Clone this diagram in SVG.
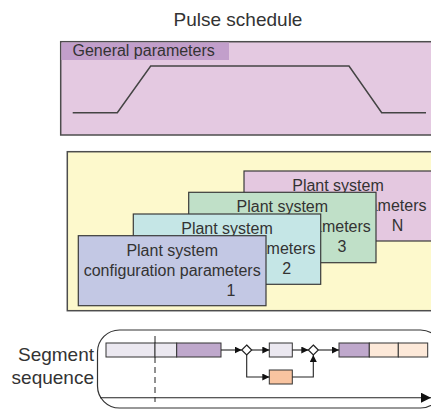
<svg xmlns="http://www.w3.org/2000/svg" width="431" height="410" viewBox="0 0 431 410">
  <defs>
    <style>
      text { font-family: "Liberation Sans", Arial, sans-serif; fill: #333; }
      .title { font-size: 19px; }
      .lbl { font-size: 16px; }
      .seqlbl { font-size: 19px; }
      .frame { stroke: #4d4d4d; stroke-width: 1.5; }
      .card { stroke: #3a3a3a; stroke-width: 1.2; }
      .bar { stroke: #333; stroke-width: 1; }
      .wire { fill: none; stroke: #222; stroke-width: 1.1; }
      .pulse { fill: none; stroke: #444; stroke-width: 1.5; }
    </style>
    <marker id="arr" viewBox="0 0 10 10" refX="10" refY="5" markerWidth="7" markerHeight="7" markerUnits="userSpaceOnUse" orient="auto">
      <path d="M0,0 L10,5 L0,10 z" fill="#111"/>
    </marker>
    <marker id="arrBig" viewBox="0 0 10 10" refX="10" refY="5" markerWidth="10" markerHeight="10" markerUnits="userSpaceOnUse" orient="auto">
      <path d="M0,0 L10,5 L0,10 z" fill="#111"/>
    </marker>
    <!-- visible tail of each card's second line, right of the card in front -->
    <clipPath id="clipN"><rect x="376.6" y="190" width="60" height="30"/></clipPath>
    <clipPath id="clip3"><rect x="321.3" y="212" width="60" height="30"/></clipPath>
    <clipPath id="clip2"><rect x="266.6" y="234" width="60" height="30"/></clipPath>
  </defs>

  <rect width="431" height="410" fill="#fff"/>

  <g id="title">
    <text class="title" x="238" y="26" text-anchor="middle">Pulse schedule</text>
  </g>

  <!-- General parameters block with pulse waveform -->
  <g id="general-parameters">
    <rect class="frame" x="60.7" y="41.7" width="380" height="93.3" fill="#e4c9e1"/>
    <rect x="61.5" y="42.5" width="167.5" height="17.5" fill="#c29fcb"/>
    <text class="lbl" x="72.5" y="55.5">General parameters</text>
    <polyline class="pulse" points="72.7,112.7 117.3,112.7 150.7,66 349,66 381.7,112.7 426,112.7"/>
  </g>

  <!-- Plant system configuration stack -->
  <g id="plant-systems">
    <rect class="frame" x="67.3" y="151.7" width="375" height="159" fill="#fdf9cc"/>
  </g>

  <g id="card-n">
    <rect class="card" x="244" y="171" width="195" height="70" fill="#e4c8e0"/>
    <text class="lbl" x="338" y="190.5" text-anchor="middle">Plant system</text>
    <text class="lbl" x="426.5" y="210.5" text-anchor="end" clip-path="url(#clipN)">rameters</text>
    <text class="lbl" x="397.5" y="230.5" text-anchor="middle">N</text>
  </g>

  <g id="card-3">
    <rect class="card" x="188.7" y="192.3" width="187.3" height="70.4" fill="#c0e0c8"/>
    <text class="lbl" x="282.3" y="211.8" text-anchor="middle">Plant system</text>
    <text class="lbl" x="370.8" y="231.8" text-anchor="end" clip-path="url(#clip3)">rameters</text>
    <text class="lbl" x="342" y="251.8" text-anchor="middle">3</text>
  </g>

  <g id="card-2">
    <rect class="card" x="133.3" y="214" width="187.4" height="70.3" fill="#c5e6e6"/>
    <text class="lbl" x="227" y="233.5" text-anchor="middle">Plant system</text>
    <text class="lbl" x="315.5" y="253.5" text-anchor="end" clip-path="url(#clip2)">rameters</text>
    <text class="lbl" x="286.7" y="273.5" text-anchor="middle">2</text>
  </g>

  <g id="card-1">
    <rect class="card" x="78.3" y="235.7" width="187.7" height="70" fill="#c3c8e4"/>
    <text class="lbl" x="172.2" y="255.5" text-anchor="middle">Plant system</text>
    <text class="lbl" x="172.2" y="275.5" text-anchor="middle">configuration parameters</text>
    <text class="lbl" x="231" y="295.5" text-anchor="middle">1</text>
  </g>

  <!-- Segment sequence timeline -->
  <g id="segment-sequence">
    <text class="seqlbl" x="94" y="361" text-anchor="end">Segment</text>
    <text class="seqlbl" x="94" y="384" text-anchor="end">sequence</text>
    <rect x="97.5" y="330" width="345" height="78" rx="22" ry="22" fill="none" stroke="#333" stroke-width="1.2"/>
  </g>

  <g id="seg-a"><rect class="bar" x="106" y="343" width="49" height="14" fill="#ebe8f0"/></g>
  <g id="seg-b"><rect class="bar" x="155" y="343" width="21.7" height="14" fill="#ebe8f0"/></g>
  <g id="seg-c"><rect class="bar" x="176.7" y="343" width="44.3" height="14" fill="#bfa8cc"/></g>
  <g id="branch-1"><path d="M246.7,345 L251.7,350 L246.7,355 L241.7,350 z" fill="#fff" stroke="#222" stroke-width="1.2"/></g>
  <g id="seg-d"><rect class="bar" x="269.3" y="343" width="23" height="14" fill="#ebe8f0"/></g>
  <g id="seg-alt"><rect class="bar" x="269.3" y="370" width="23" height="14" fill="#f9c4a0"/></g>
  <g id="join-1"><path d="M313.3,345 L318.3,350 L313.3,355 L308.3,350 z" fill="#fff" stroke="#222" stroke-width="1.2"/></g>
  <g id="seg-e"><rect class="bar" x="339" y="343" width="30.3" height="14" fill="#bfa8cc"/></g>
  <g id="seg-f"><rect class="bar" x="369.3" y="343" width="29" height="14" fill="#fde9d9"/></g>
  <g id="seg-g"><rect class="bar" x="398.3" y="343" width="29.4" height="14" fill="#fde9d9"/></g>

  <g id="connectors">
    <line class="wire" x1="221" y1="350" x2="241.7" y2="350" marker-end="url(#arr)"/>
    <line class="wire" x1="251.7" y1="350" x2="269.3" y2="350" marker-end="url(#arr)"/>
    <polyline class="wire" points="246.7,355 246.7,377 269.3,377" marker-end="url(#arr)"/>
    <line class="wire" x1="292.3" y1="350" x2="308.3" y2="350" marker-end="url(#arr)"/>
    <polyline class="wire" points="292.3,377 313.3,377 313.3,355" marker-end="url(#arr)"/>
    <line class="wire" x1="318.3" y1="350" x2="339" y2="350" marker-end="url(#arr)"/>
    <!-- time axis -->
    <line class="wire" x1="100" y1="397.7" x2="431" y2="397.7" marker-end="url(#arrBig)"/>
    <!-- current-time cursor -->
    <line x1="155" y1="336" x2="155" y2="343" stroke="#222" stroke-width="1"/>
    <line x1="155" y1="357" x2="155" y2="402" stroke="#222" stroke-width="1" stroke-dasharray="6 4"/>
  </g>
</svg>
